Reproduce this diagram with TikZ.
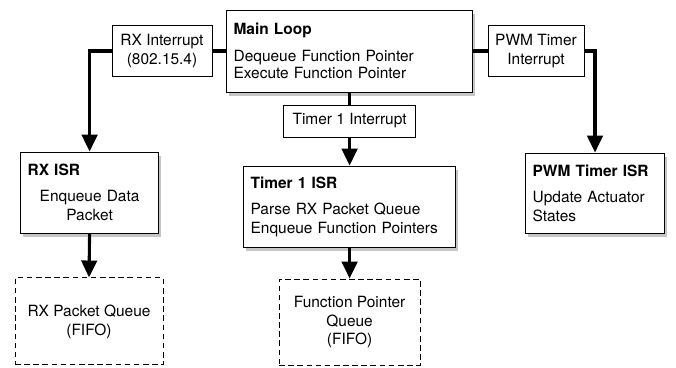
\documentclass[tikz,border=0pt]{standalone}
\usepackage{fontspec}
\setmainfont{TeX Gyre Heros}
\usetikzlibrary{arrows.meta, shadows}

\begin{document}
\begin{tikzpicture}[
    line width=0.7pt,
    font=\fontsize{11}{13.5}\selectfont,
    box/.style={draw, fill=white, align=left, inner sep=5pt,
      drop shadow={shadow xshift=2pt, shadow yshift=-3pt, opacity=0.45}},
    irq/.style={draw, fill=white, align=center, inner sep=2pt},
    fifo/.style={draw, dash pattern=on 4pt off 2.5pt, align=center},
    wire/.style={line width=2.2pt},
    flow/.style={wire, -{Triangle[width=11pt,length=12pt]}}
  ]
  \useasboundingbox (0,0) rectangle (16.9,9.175);

  % main loop and the interrupt sources
  \node[box, text width=5.8cm, minimum height=2.05cm] (main) at (8.74,7.9)
    {\textbf{Main Loop}\par\vspace{6pt}Dequeue Function Pointer\\[-1.5pt]Execute Function Pointer\par\vspace{5pt}};
  \node[irq, minimum width=2.5cm, minimum height=1.275cm] (rxint) at (4.05,7.9) {RX Interrupt\\(802.15.4)};
  \node[irq, minimum width=2.4cm, minimum height=1.275cm] (pwmint) at (13.4,7.9) {PWM Timer\\Interrupt};
  \node[irq, minimum width=3.3cm, minimum height=0.8cm] (t1int) at (8.74,6.15) {Timer 1 Interrupt};

  % interrupt service routines
  \node[box, text width=3.1cm, minimum height=2.025cm] (rxisr) at (2.24,4.36)
    {\textbf{RX ISR}\par\vspace{5pt}\centering Enqueue Data\\Packet\par\vspace{5pt}};
  \node[box, text width=4.95cm, minimum height=2.025cm] (t1isr) at (8.74,4.01)
    {\textbf{Timer 1 ISR}\par\vspace{5pt}Parse RX Packet Queue\\Enqueue Function Pointers\par\vspace{5pt}};
  \node[box, text width=3.12cm, minimum height=2cm] (pwmisr) at (14.875,4.35)
    {\textbf{PWM Timer ISR}\par\vspace{5pt}Update Actuator\\States\par\vspace{5pt}};

  % queues
  \node[fifo, minimum width=3.7cm, minimum height=2.175cm] (rxq) at (2.225,1.14) {RX Packet Queue\\(FIFO)};
  \node[fifo, minimum width=3.525cm, minimum height=2.15cm] (fpq) at (8.74,1.125) {Function Pointer\\Queue\\(FIFO)};

  % connectors
  \draw[wire] (main.west) -- (rxint.east);
  \draw[flow] (rxint.west) -| (rxisr.north);
  \draw[wire] (main.east) -- (pwmint.west);
  \draw[flow] (pwmint.east) -| (pwmisr.north);
  \draw[wire] (main.south) -- (t1int.north);
  \draw[flow] (t1int.south) -- (t1isr.north);
  \draw[flow] (rxisr.south) -- (rxq.north);
  \draw[flow] (t1isr.south) -- (fpq.north);
\end{tikzpicture}
\end{document}
